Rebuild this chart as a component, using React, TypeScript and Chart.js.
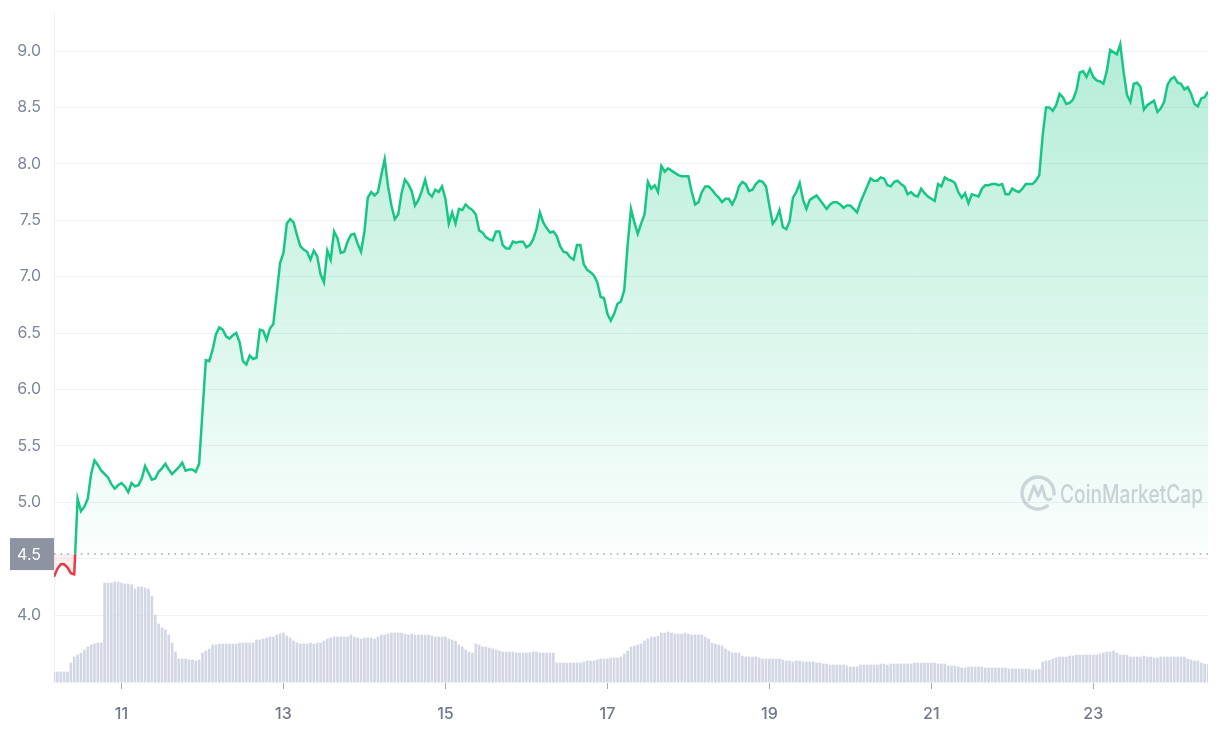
import React, { useEffect, useRef } from "react";
import { Chart, registerables } from "chart.js";

Chart.register(...registerables);

// hourly samples, first one at the 10th 04:00, last at the 24th 10:00
const startDay = 10 + 4 / 24;
const endDay = 24 + 10 / 24;
const openPrice = 4.54;

const priceByDay: number[][] = [
    // 10th (from 04:00)
    [4.34, 4.41, 4.45, 4.45, 4.42, 4.37, 4.36, 5.03, 4.92, 4.96, 5.03, 5.25, 5.37, 5.33, 5.28, 5.25, 5.22, 5.16, 5.12, 5.15],
    // 11th
    [5.17, 5.14, 5.09, 5.17, 5.14, 5.15, 5.21, 5.32, 5.26, 5.2, 5.21, 5.27, 5.3, 5.34, 5.29, 5.25, 5.28, 5.31, 5.35, 5.28, 5.29, 5.29, 5.27, 5.34],
    // 12th
    [5.8, 6.26, 6.25, 6.35, 6.49, 6.55, 6.53, 6.47, 6.45, 6.48, 6.5, 6.42, 6.25, 6.22, 6.3, 6.27, 6.28, 6.53, 6.52, 6.44, 6.54, 6.58, 6.85, 7.12],
    // 13th
    [7.21, 7.47, 7.51, 7.48, 7.37, 7.27, 7.24, 7.22, 7.15, 7.23, 7.18, 7.02, 6.95, 7.23, 7.15, 7.4, 7.34, 7.21, 7.22, 7.31, 7.37, 7.38, 7.29, 7.22],
    // 14th
    [7.4, 7.7, 7.75, 7.72, 7.75, 7.9, 8.04, 7.8, 7.63, 7.51, 7.55, 7.74, 7.86, 7.82, 7.76, 7.63, 7.68, 7.76, 7.86, 7.74, 7.71, 7.77, 7.75, 7.8],
    // 15th
    [7.69, 7.47, 7.57, 7.47, 7.6, 7.59, 7.64, 7.61, 7.59, 7.55, 7.41, 7.39, 7.35, 7.33, 7.32, 7.4, 7.4, 7.28, 7.25, 7.25, 7.31, 7.3, 7.31, 7.31],
    // 16th
    [7.26, 7.28, 7.33, 7.42, 7.57, 7.48, 7.43, 7.39, 7.4, 7.36, 7.27, 7.22, 7.21, 7.17, 7.15, 7.28, 7.28, 7.11, 7.06, 7.04, 7.01, 6.95, 6.82, 6.81],
    // 17th
    [6.67, 6.61, 6.67, 6.76, 6.78, 6.88, 7.28, 7.6, 7.48, 7.38, 7.47, 7.55, 7.84, 7.78, 7.81, 7.75, 7.98, 7.93, 7.96, 7.94, 7.92, 7.9, 7.89, 7.89],
    // 18th
    [7.89, 7.75, 7.64, 7.66, 7.75, 7.8, 7.8, 7.77, 7.73, 7.7, 7.66, 7.69, 7.69, 7.64, 7.7, 7.8, 7.84, 7.82, 7.76, 7.77, 7.82, 7.85, 7.84, 7.8],
    // 19th
    [7.63, 7.47, 7.51, 7.59, 7.44, 7.42, 7.49, 7.7, 7.75, 7.83, 7.68, 7.6, 7.68, 7.7, 7.72, 7.68, 7.64, 7.6, 7.64, 7.66, 7.66, 7.64, 7.61, 7.63],
    // 20th
    [7.63, 7.6, 7.57, 7.66, 7.73, 7.8, 7.87, 7.85, 7.85, 7.88, 7.87, 7.81, 7.8, 7.84, 7.85, 7.82, 7.8, 7.73, 7.75, 7.72, 7.71, 7.78, 7.74, 7.71],
    // 21st
    [7.69, 7.67, 7.82, 7.8, 7.88, 7.86, 7.85, 7.83, 7.75, 7.7, 7.74, 7.65, 7.73, 7.72, 7.71, 7.78, 7.81, 7.81, 7.82, 7.82, 7.81, 7.82, 7.73, 7.73],
    // 22nd
    [7.78, 7.76, 7.75, 7.78, 7.82, 7.82, 7.82, 7.85, 7.9, 8.25, 8.5, 8.5, 8.47, 8.52, 8.62, 8.59, 8.53, 8.54, 8.57, 8.65, 8.81, 8.82, 8.77, 8.84],
    // 23rd
    [8.77, 8.74, 8.73, 8.71, 8.82, 9.01, 8.99, 8.97, 9.06, 8.81, 8.61, 8.55, 8.71, 8.72, 8.68, 8.48, 8.52, 8.54, 8.56, 8.46, 8.49, 8.55, 8.7, 8.75],
    // 24th (to 10:00)
    [8.77, 8.72, 8.71, 8.66, 8.68, 8.62, 8.53, 8.51, 8.58, 8.59, 8.64],
];

// volume in arbitrary units (relative bar heights)
const volumeByDay: number[][] = [
    [10, 10, 10, 10, 10, 19, 25, 27, 29, 32, 35, 37, 38, 39, 39, 99, 99, 99, 100, 100],
    [99, 98, 98, 97, 93, 95, 95, 94, 93, 86, 67, 58, 54, 52, 47, 39, 30, 23, 23, 23, 22, 22, 21, 22],
    [29, 31, 33, 37, 37, 38, 38, 38, 38, 38, 38, 39, 39, 39, 39, 39, 42, 42, 43, 44, 45, 45, 47, 48],
    [49, 46, 44, 41, 39, 38, 38, 38, 39, 38, 39, 39, 41, 43, 44, 45, 45, 45, 45, 45, 47, 45, 44, 43],
    [44, 44, 44, 43, 45, 47, 47, 48, 49, 49, 49, 49, 48, 47, 48, 47, 47, 47, 47, 47, 46, 45, 45, 45],
    [45, 43, 42, 41, 37, 35, 32, 30, 29, 38, 37, 35, 35, 34, 33, 32, 31, 30, 30, 30, 30, 29, 29, 29],
    [29, 29, 30, 30, 29, 29, 29, 29, 29, 19, 19, 19, 19, 19, 19, 19, 19, 20, 21, 21, 21, 22, 23, 23],
    [23, 24, 24, 24, 25, 28, 31, 35, 36, 37, 38, 41, 43, 45, 45, 46, 49, 49, 50, 49, 48, 48, 48, 49],
    [48, 47, 47, 47, 47, 45, 43, 39, 38, 37, 36, 33, 31, 29, 29, 29, 26, 25, 25, 25, 25, 24, 23, 23],
    [23, 23, 23, 23, 22, 21, 21, 20, 21, 21, 20, 20, 20, 20, 19, 19, 18, 18, 17, 17, 17, 17, 17, 16],
    [15, 15, 15, 17, 17, 17, 17, 17, 17, 18, 18, 17, 18, 18, 18, 18, 18, 18, 18, 19, 19, 19, 19, 19],
    [19, 19, 18, 18, 18, 16, 16, 16, 15, 14, 14, 15, 15, 15, 15, 15, 14, 14, 14, 14, 14, 14, 14, 13],
    [13, 13, 13, 13, 13, 13, 12, 12, 12.5, 20, 21, 21.5, 23, 24, 25, 25, 25, 26, 26, 27, 27, 27, 27, 27],
    [27, 27, 28, 29, 30, 30, 31, 29, 27, 27, 27, 25, 25, 25, 25, 26, 25, 25, 24, 24, 25, 25, 25, 25],
    [25, 25, 25, 25, 23, 22, 21, 21, 19, 18, 17.5],
];

const dayTicks = [11, 13, 15, 17, 19, 21, 23];
const priceTicks = [4.0, 4.5, 5.0, 5.5, 6.0, 6.5, 7.0, 7.5, 8.0, 8.5, 9.0];

const GREEN = "#16c784";
const RED = "#ea3943";
const FONT = "Inter, 'Noto Sans', sans-serif";

const splitAt = (chart: Chart) => {
    const { chartArea, scales } = chart;
    const y = scales.y.getPixelForValue(openPrice);
    return Math.min(1, Math.max(0, (y - chartArea.top) / (chartArea.bottom - chartArea.top)));
};

const splitStroke = (chart: Chart) => {
    const { ctx, chartArea } = chart;
    if (!chartArea) return GREEN;
    const s = splitAt(chart);
    const g = ctx.createLinearGradient(0, chartArea.top, 0, chartArea.bottom);
    g.addColorStop(0, GREEN);
    g.addColorStop(s, GREEN);
    g.addColorStop(s, RED);
    g.addColorStop(1, RED);
    return g;
};

const splitFill = (chart: Chart) => {
    const { ctx, chartArea } = chart;
    if (!chartArea) return "rgba(22,199,132,0.2)";
    const s = splitAt(chart);
    const g = ctx.createLinearGradient(0, chartArea.top, 0, chartArea.bottom);
    g.addColorStop(0, "rgba(22,199,132,0.34)");
    g.addColorStop(s, "rgba(22,199,132,0.02)");
    g.addColorStop(s, "rgba(234,57,67,0.08)");
    g.addColorStop(1, "rgba(234,57,67,0.08)");
    return g;
};

// watermark, dotted open-price line and its label box
const overlay = {
    id: "overlay",
    beforeDatasetsDraw(chart: Chart) {
        const { ctx, chartArea } = chart;
        const cx = chartArea.right - 170;
        const cy = chartArea.bottom - 189;
        ctx.save();
        ctx.strokeStyle = "rgba(160,167,182,0.45)";
        ctx.lineCap = "round";
        ctx.lineJoin = "round";
        ctx.lineWidth = 3.5;
        ctx.beginPath();
        ctx.arc(cx, cy, 16, 0.3 * Math.PI, 2.02 * Math.PI);
        ctx.stroke();
        ctx.lineWidth = 3;
        ctx.beginPath();
        ctx.moveTo(cx - 9, cy + 7);
        ctx.lineTo(cx - 4, cy - 7);
        ctx.lineTo(cx, cy + 3);
        ctx.lineTo(cx + 4, cy - 7);
        ctx.lineTo(cx + 7, cy + 4);
        ctx.quadraticCurveTo(cx + 9, cy + 8, cx + 13, cy + 6);
        ctx.stroke();
        ctx.fillStyle = "rgba(160,167,182,0.5)";
        ctx.font = `500 25px ${FONT}`;
        const w = ctx.measureText("CoinMarketCap").width;
        const sx = 143 / w;
        ctx.textBaseline = "middle";
        ctx.textAlign = "left";
        ctx.translate(cx + 22, cy + 2);
        ctx.scale(sx, 1);
        ctx.fillText("CoinMarketCap", 0, 0);
        ctx.restore();
    },
    afterDraw(chart: Chart) {
        const { ctx, chartArea, scales } = chart;
        const y = scales.y.getPixelForValue(openPrice);
        ctx.save();
        ctx.strokeStyle = "#98a1b3";
        ctx.lineWidth = 1.5;
        ctx.setLineDash([1.5, 5.2]);
        ctx.beginPath();
        ctx.moveTo(chartArea.left, y);
        ctx.lineTo(chartArea.right, y);
        ctx.stroke();
        ctx.setLineDash([]);
        ctx.fillStyle = "#8e93a2";
        ctx.fillRect(chartArea.left - 44, y - 16, 44, 32);
        ctx.fillStyle = "#ffffff";
        ctx.font = `16px ${FONT}`;
        ctx.textAlign = "right";
        ctx.textBaseline = "middle";
        ctx.fillText(openPrice.toFixed(1), chartArea.left - 13, y + 1);
        ctx.restore();
    },
};

const App = () => {
    const canvasRef = useRef<HTMLCanvasElement | null>(null);
    const chartRef = useRef<Chart | null>(null);

    useEffect(() => {
        if (!canvasRef.current) return;
        const prices = priceByDay.flat();
        const volumes = volumeByDay.flat();
        const pricePoints = prices.map((p, i) => ({ x: startDay + i / 24, y: p }));
        const volumePoints = volumes.map((v, i) => ({ x: startDay + i / 24, y: v }));

        chartRef.current?.destroy();
        chartRef.current = new Chart(canvasRef.current, {
            type: "line",
            data: {
                datasets: [
                    {
                        type: "line",
                        data: pricePoints,
                        yAxisID: "y",
                        borderColor: (c: any) => splitStroke(c.chart),
                        backgroundColor: (c: any) => splitFill(c.chart),
                        borderWidth: 2.5,
                        pointRadius: 0,
                        tension: 0,
                        fill: { target: { value: openPrice } },
                        order: 1,
                    },
                    {
                        type: "bar",
                        data: volumePoints,
                        yAxisID: "yVol",
                        backgroundColor: "#d2d7e3",
                        barThickness: 2,
                        order: 2,
                    } as any,
                ],
            },
            options: {
                animation: false,
                responsive: true,
                maintainAspectRatio: false,
                layout: { padding: { top: 12, right: 12, left: 0, bottom: 0 } },
                plugins: { legend: { display: false }, tooltip: { enabled: false } },
                scales: {
                    x: {
                        type: "linear",
                        min: startDay,
                        max: endDay,
                        offset: false,
                        afterBuildTicks: (s: any) => {
                            s.ticks = dayTicks.map((v) => ({ value: v }));
                        },
                        afterFit: (s: any) => {
                            s.height = 58;
                            s.paddingLeft = 0;
                            s.paddingRight = 0;
                        },
                        ticks: {
                            callback: (v: any) => String(v),
                            color: "#6f788b",
                            font: { family: FONT, size: 16, weight: 500 },
                            padding: 16,
                            maxRotation: 0,
                        },
                        grid: { offset: false, drawOnChartArea: false, drawTicks: true, tickLength: 7, color: "#a3a9b6" },
                        border: { display: true, color: "#eef0f3" },
                    },
                    y: {
                        position: "left",
                        min: 3.406,
                        max: 9.346,
                        afterBuildTicks: (s: any) => {
                            s.ticks = priceTicks.map((v) => ({ value: v }));
                        },
                        afterFit: (s: any) => {
                            s.width = 54;
                            s.paddingTop = 0;
                            s.paddingBottom = 0;
                        },
                        ticks: {
                            callback: (v: any) => Number(v).toFixed(1),
                            color: "#7d869a",
                            font: { family: FONT, size: 16 },
                            padding: 13,
                        },
                        grid: { color: "#eef0f3", drawTicks: false },
                        border: { display: true, color: "#eef0f3" },
                    },
                    yVol: {
                        display: false,
                        min: 0,
                        max: 670,
                    },
                },
            },
            plugins: [overlay],
        });

        return () => {
            chartRef.current?.destroy();
            chartRef.current = null;
        };
    }, []);

    return (
        <div style={{ position: "fixed", left: 0, top: 0, width: 1220, height: 740, background: "#fff" }}>
            <canvas ref={canvasRef} />
        </div>
    );
};

export default App;
